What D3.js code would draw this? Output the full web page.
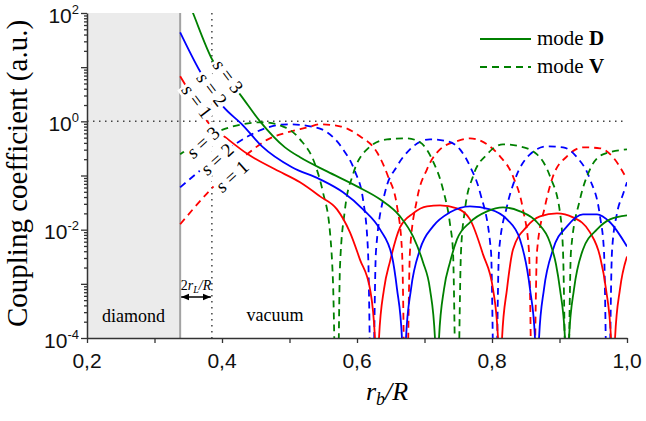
<!DOCTYPE html>
<html>
<head>
<meta charset="utf-8">
<script src="https://cdn.jsdelivr.net/npm/d3@7"></script>
<style>
  body { margin: 0; background: #fff; }
  svg { display: block; }
</style>
</head>
<body>
<svg width="646" height="421"></svg>
<script>
// series: r_b/R and coupling coefficient (a.u.)
// mode D (solid)
const rD1 = [0.338, 0.348, 0.379, 0.409, 0.4385, 0.4785, 0.5156, 0.5452, 0.5704, 0.5896, 0.6044, 0.6193, 0.6266, 0.6296, 0.6326, 0.64, 0.6489, 0.6637, 0.683, 0.7037, 0.723, 0.7481, 0.7674, 0.7867, 0.8015, 0.8089, 0.8119, 0.8149, 0.8222, 0.8311, 0.8519, 0.8711, 0.8963, 0.92, 0.9452, 0.96, 0.9689, 0.9763, 0.9793, 0.9823, 0.9896, 1.0];
const kD1 = [6.8, 4.2, 0.96, 0.465, 0.246, 0.13, 0.0748, 0.0412, 0.0237, 0.0089, 0.0028, 0.0008, 1e-4, 1e-8, 1e-4, 0.0008, 0.0026, 0.011, 0.02, 0.027, 0.028, 0.0248, 0.0155, 0.0035, 0.0008, 1e-4, 1e-8, 1e-4, 0.0008, 0.0043, 0.0115, 0.0176, 0.02, 0.0169, 0.0089, 0.0032, 0.0008, 1e-4, 1e-8, 1e-4, 0.0008, 0.0032];

const rD2 = [0.338, 0.3674, 0.4015, 0.4296, 0.4593, 0.5037, 0.5452, 0.5793, 0.6089, 0.6341, 0.6519, 0.6593, 0.6666, 0.6696, 0.6726, 0.68, 0.6933, 0.7126, 0.7378, 0.7674, 0.797, 0.8222, 0.8415, 0.8563, 0.8637, 0.8667, 0.8697, 0.877, 0.8904, 0.9111, 0.9348, 0.9556, 0.9748, 1.0];
const kD2 = [44, 8.4, 1.89, 0.88, 0.345, 0.142, 0.085, 0.0489, 0.0237, 0.0101, 0.0032, 0.0008, 1e-4, 1e-8, 1e-4, 0.0008, 0.0043, 0.0115, 0.0209, 0.027, 0.0237, 0.0155, 0.0066, 0.0008, 1e-4, 1e-8, 1e-4, 0.0008, 0.0043, 0.0115, 0.0192, 0.0192, 0.0137, 0.0049];

const rD3 = [0.338, 0.357, 0.3852, 0.4267, 0.4563, 0.4933, 0.5156, 0.5556, 0.6, 0.6341, 0.6637, 0.683, 0.6978, 0.7081, 0.7155, 0.7185, 0.7215, 0.7289, 0.7378, 0.7481, 0.7674, 0.7926, 0.8163, 0.8415, 0.8667, 0.8859, 0.8948, 0.9007, 0.9081, 0.9111, 0.9141, 0.9215, 0.9348, 0.9556, 0.9748, 1.0];
const kD3 = [400, 100, 14, 3.15, 1.0, 0.331, 0.217, 0.119, 0.063, 0.0363, 0.0176, 0.0075, 0.0025, 0.0008, 1e-4, 1e-8, 1e-4, 0.0008, 0.0025, 0.0066, 0.0137, 0.0218, 0.0258, 0.0218, 0.0137, 0.0058, 0.0023, 0.0008, 1e-4, 1e-8, 1e-4, 0.0008, 0.0043, 0.0101, 0.0155, 0.0184];

// mode V (dashed)
const rV1 = [0.338, 0.3793, 0.437, 0.4681, 0.4978, 0.5274, 0.5452, 0.5748, 0.6044, 0.6296, 0.6459, 0.6593, 0.6667, 0.6726, 0.6785, 0.6889, 0.7037, 0.723, 0.7481, 0.7674, 0.7926, 0.8119, 0.8311, 0.8459, 0.8548, 0.8607, 0.8667, 0.8785, 0.8904, 0.9111, 0.9348, 0.96, 0.9793, 1.0];
const kV1 = [0.0126, 0.0489, 0.246, 0.465, 0.63, 0.775, 0.88, 0.81, 0.53, 0.268, 0.0966, 0.027, 0.004, 1e-6, 0.004, 0.0363, 0.13, 0.304, 0.43, 0.485, 0.376, 0.226, 0.0966, 0.0237, 0.004, 1e-6, 0.004, 0.027, 0.0966, 0.226, 0.331, 0.318, 0.217, 0.085];

const rV2 = [0.338, 0.4148, 0.4385, 0.4681, 0.4978, 0.5304, 0.5556, 0.5793, 0.597, 0.6089, 0.6163, 0.6222, 0.6281, 0.6415, 0.6593, 0.6785, 0.7081, 0.7333, 0.7526, 0.7674, 0.7822, 0.7985, 0.8044, 0.8104, 0.8222, 0.8341, 0.8563, 0.8815, 0.9052, 0.9259, 0.9452, 0.96, 0.9659, 0.9719, 0.9778, 0.9852, 0.9941, 1.0];
const kV2 = [0.0605, 0.345, 0.53, 0.775, 0.88, 0.81, 0.63, 0.304, 0.119, 0.0363, 0.004, 1e-6, 0.004, 0.0489, 0.148, 0.304, 0.465, 0.43, 0.304, 0.148, 0.0489, 0.004, 1e-6, 0.004, 0.027, 0.085, 0.246, 0.345, 0.331, 0.217, 0.085, 0.0176, 0.004, 1e-6, 0.004, 0.02, 0.045, 0.075];

const rV3 = [0.338, 0.394, 0.4296, 0.4593, 0.4933, 0.5156, 0.5378, 0.5496, 0.56, 0.5644, 0.5704, 0.5748, 0.5822, 0.5941, 0.6148, 0.6444, 0.6741, 0.6933, 0.7126, 0.7274, 0.7378, 0.7422, 0.7481, 0.7541, 0.76, 0.7719, 0.7926, 0.8163, 0.8415, 0.8667, 0.8859, 0.9007, 0.9052, 0.9111, 0.917, 0.9304, 0.9452, 0.9644, 1.0];
const kV3 = [0.246, 0.65, 0.88, 0.96, 0.775, 0.465, 0.161, 0.0489, 0.0089, 0.0011, 1e-6, 0.0021, 0.0237, 0.105, 0.304, 0.465, 0.485, 0.41, 0.183, 0.0556, 0.0126, 0.004, 1e-6, 0.004, 0.0237, 0.0966, 0.246, 0.376, 0.345, 0.246, 0.0966, 0.0209, 0.004, 1e-6, 0.004, 0.0363, 0.13, 0.246, 0.304];

const modeNames = ["D", "V"];
const sNames = ["s = 1", "s = 2", "s = 3"];
// where the s-labels sit on their curves (r, k)
const labelR = { D: [0.363, 0.385, 0.409], V: [0.4148, 0.3926, 0.372] };
const labelK = { D: [2.34, 3.9, 6.8], V: [0.0966, 0.2, 0.41] };

const xTickValues = [0.2, 0.3, 0.4, 0.5, 0.6, 0.7, 0.8, 0.9, 1.0];
const xTickLabels = ["0,2", "0,4", "0,6", "0,8", "1,0"];
const yTickExp = [-4, -2, 0, 2];

const rDiamond = 0.338; // diamond / vacuum boundary
const rLimit = 0.385;   // 2 r_L / R

// styles
const colors = ["#ff0000", "#0000ff", "#008000"];
const serif = "'Liberation Serif', 'Times New Roman', serif";
const sans = "'Liberation Sans', Arial, sans-serif";

const svg = d3.select("svg");
const plotL = 87, plotR = 627, plotT = 13, plotB = 338;

const x = d3.scaleLinear().domain([0.2, 1.0]).range([plotL, plotR]);
const y = d3.scaleLog().domain([1e-4, 1e2]).range([plotB, plotT]);

const defs = svg.append("defs");
defs.append("clipPath").attr("id", "plot")
  .append("rect")
  .attr("x", plotL).attr("y", plotT)
  .attr("width", plotR - plotL).attr("height", plotB - plotT);

defs.append("marker")
  .attr("id", "arrow")
  .attr("viewBox", "0 0 10 10")
  .attr("refX", 10).attr("refY", 5)
  .attr("markerWidth", 8).attr("markerHeight", 8)
  .attr("markerUnits", "userSpaceOnUse")
  .attr("orient", "auto-start-reverse")
  .append("path")
  .attr("d", "M0,1 L10,5 L0,9 z")
  .attr("fill", "#000");

// diamond region
svg.append("rect")
  .attr("x", x(0.2)).attr("y", plotT)
  .attr("width", x(rDiamond) - x(0.2)).attr("height", plotB - plotT)
  .attr("fill", "#ebebeb");
svg.append("line")
  .attr("x1", x(rDiamond)).attr("x2", x(rDiamond))
  .attr("y1", plotT).attr("y2", plotB)
  .attr("stroke", "#a3a3a3").attr("stroke-width", 2);

// dotted guides
svg.append("line")
  .attr("x1", plotL).attr("x2", plotR)
  .attr("y1", y(1)).attr("y2", y(1))
  .attr("stroke", "#444").attr("stroke-width", 1.5)
  .attr("stroke-dasharray", "1.5,4.5");
svg.append("line")
  .attr("x1", x(rLimit)).attr("x2", x(rLimit))
  .attr("y1", plotT).attr("y2", plotB)
  .attr("stroke", "#444").attr("stroke-width", 1.5)
  .attr("stroke-dasharray", "1.5,4.5");

// curves
const line = d3.line()
  .x((d) => x(d[0]))
  .y((d) => y(d[1]))
  .curve(d3.curveMonotoneX);

const seriesD = [[rD1, kD1], [rD2, kD2], [rD3, kD3]];
const seriesV = [[rV1, kV1], [rV2, kV2], [rV3, kV3]];

const curves = svg.append("g").attr("clip-path", "url(#plot)");

seriesV.forEach(([r, k], i) => {
  curves.append("path")
    .attr("d", line(d3.zip(r, k)))
    .attr("fill", "none")
    .attr("stroke", colors[i])
    .attr("stroke-width", 1.8)
    .attr("stroke-dasharray", "7,5");
});
seriesD.forEach(([r, k], i) => {
  curves.append("path")
    .attr("d", line(d3.zip(r, k)))
    .attr("fill", "none")
    .attr("stroke", colors[i])
    .attr("stroke-width", 1.8);
});

// s = n labels with a white box over the lines
function curveLabel(mode, i) {
  const angle = mode === "D" ? 53 : -42;
  const g = svg.append("g")
    .attr("transform", `translate(${x(labelR[mode][i])},${y(labelK[mode][i])}) rotate(${angle})`);
  const bg = g.append("rect").attr("fill", "#fff");
  const t = g.append("text")
    .attr("text-anchor", "middle")
    .attr("dy", "0.33em")
    .style("font-family", serif)
    .style("font-size", "19px");
  t.append("tspan").style("font-style", "italic").text("s");
  t.append("tspan").text(sNames[i].slice(1));
  const b = t.node().getBBox();
  bg.attr("x", b.x - 2).attr("y", b.y + 1)
    .attr("width", b.width + 4).attr("height", b.height - 2);
}
modeNames.forEach((m) => sNames.forEach((s, i) => curveLabel(m, i)));

// axes
const xAxis = d3.axisBottom(x)
  .tickValues(xTickValues)
  .tickSize(5)
  .tickSizeOuter(0)
  .tickFormat("");
const gx = svg.append("g")
  .attr("transform", `translate(0,${plotB})`)
  .call(xAxis);

const yMajor = d3.range(-4, 3).map((e) => Math.pow(10, e));
const yMinor = [];
yMajor.slice(0, -1).forEach((v) => {
  for (let m = 2; m < 10; m++) yMinor.push(v * m);
});
const gy = svg.append("g")
  .attr("transform", `translate(${plotL},0)`)
  .call(d3.axisLeft(y).tickValues(yMajor).tickSize(6).tickSizeOuter(0).tickFormat(""));
const gyMinor = svg.append("g")
  .attr("transform", `translate(${plotL},0)`)
  .call(d3.axisLeft(y).tickValues(yMinor).tickSize(3).tickSizeOuter(0).tickFormat(""));
gyMinor.select(".domain").remove();

[gx, gy, gyMinor].forEach((g) => {
  g.select(".domain").attr("stroke", "#333").attr("stroke-width", 1.5);
  g.selectAll(".tick line").attr("stroke", "#333").attr("stroke-width", 1.3);
});

// tick labels
svg.append("g")
  .selectAll("text")
  .data(xTickLabels)
  .enter()
  .append("text")
  .attr("x", (d) => x(+d.replace(",", ".")))
  .attr("y", plotB + 30)
  .attr("text-anchor", "middle")
  .style("font-family", sans)
  .style("font-size", "21px")
  .style("fill", "#111")
  .text((d) => d);

const yLabels = svg.append("g")
  .selectAll("text")
  .data(yTickExp)
  .enter()
  .append("text")
  .attr("x", plotL - 8)
  .attr("y", (d) => y(Math.pow(10, d)) + 9.5)
  .attr("text-anchor", "end")
  .style("font-family", sans)
  .style("font-size", "21px")
  .style("fill", "#111");
yLabels.append("tspan").text("10");
yLabels.append("tspan")
  .attr("dy", -9)
  .style("font-size", "13px")
  .text((d) => String(d));

// axis titles
svg.append("text")
  .attr("transform", `translate(27,${(plotT + plotB) / 2 - 2}) rotate(-90)`)
  .attr("text-anchor", "middle")
  .style("font-family", serif)
  .style("font-size", "29px")
  .text("Coupling coefficient (a.u.)");

const xt = svg.append("text")
  .attr("x", (plotL + plotR) / 2 + 30)
  .attr("y", 400)
  .attr("text-anchor", "middle")
  .style("font-family", serif)
  .style("font-size", "26px")
  .style("font-style", "italic");
xt.append("tspan").text("r");
xt.append("tspan").attr("dy", 5).style("font-size", "18px").text("b");
xt.append("tspan").attr("dy", -5).text("/R");

// region labels
svg.append("text")
  .attr("x", (x(0.2) + x(rDiamond)) / 2)
  .attr("y", 322)
  .attr("text-anchor", "middle")
  .style("font-family", serif)
  .style("font-size", "18px")
  .text("diamond");
svg.append("text")
  .attr("x", 275)
  .attr("y", 321)
  .attr("text-anchor", "middle")
  .style("font-family", serif)
  .style("font-size", "18px")
  .text("vacuum");

// 2 r_L / R marker
const rl = svg.append("text")
  .attr("x", (x(rDiamond) + x(rLimit)) / 2)
  .attr("y", 290)
  .attr("text-anchor", "middle")
  .style("font-family", serif)
  .style("font-size", "14px");
rl.append("tspan").text("2");
rl.append("tspan").style("font-style", "italic").text("r");
rl.append("tspan").attr("dy", 3).style("font-size", "10px").style("font-style", "italic").text("L");
rl.append("tspan").attr("dy", -3).style("font-style", "italic").text("/R");
svg.append("line")
  .attr("x1", x(rDiamond) + 1).attr("x2", x(rLimit) - 1)
  .attr("y1", 297).attr("y2", 297)
  .attr("stroke", "#000").attr("stroke-width", 1.5)
  .attr("marker-start", "url(#arrow)")
  .attr("marker-end", "url(#arrow)");

// legend
const legend = svg.append("g").attr("transform", "translate(480,0)");
modeNames.forEach((m, i) => {
  const ly = 39 + i * 28;
  legend.append("line")
    .attr("x1", 0).attr("x2", 51)
    .attr("y1", ly).attr("y2", ly)
    .attr("stroke", colors[2])
    .attr("stroke-width", 1.8)
    .attr("stroke-dasharray", i === 0 ? null : "7,5");
  const t = legend.append("text")
    .attr("x", 57)
    .attr("y", ly + 6)
    .style("font-family", serif)
    .style("font-size", "21px");
  t.append("tspan").text("mode ");
  t.append("tspan").style("font-weight", "bold").text(m);
});
</script>
</body>
</html>
